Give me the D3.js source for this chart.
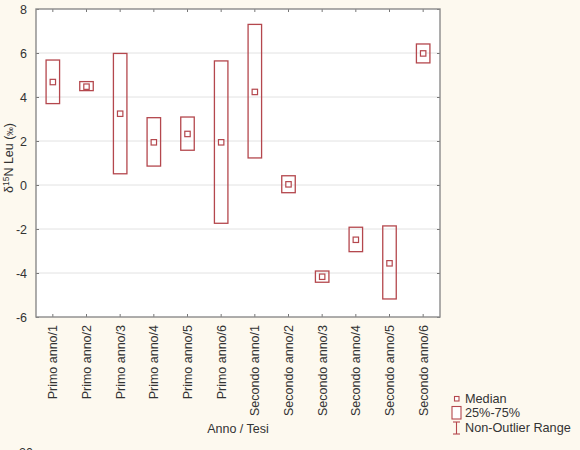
<!DOCTYPE html>
<html>
<head>
<meta charset="utf-8">
<script src="https://cdn.jsdelivr.net/npm/d3@7"></script>
<style>
  body { margin: 0; background: #fdf9ef; }
  svg { display: block; font-family: Arial, "Liberation Sans", sans-serif; }
</style>
</head>
<body>
<svg id="chart" width="580" height="450"></svg>
<script>
// categories and box values
var categories = ["Primo anno/1", "Primo anno/2", "Primo anno/3", "Primo anno/4", "Primo anno/5", "Primo anno/6",
  "Secondo anno/1", "Secondo anno/2", "Secondo anno/3", "Secondo anno/4", "Secondo anno/5", "Secondo anno/6"]
var medians = [4.68, 4.47, 3.24, 1.94, 2.32, 1.94, 4.23, 0.03, -4.17, -2.49, -3.56, 5.98]
var q1 = [3.70, 4.29, 0.51, 0.86, 1.58, -1.74, 1.23, -0.35, -4.42, -3.03, -5.18, 5.55]
var q3 = [5.68, 4.70, 5.98, 3.06, 3.09, 5.64, 7.30, 0.42, -3.91, -1.92, -1.86, 6.41]
var yTicks = [-6, -4, -2, 0, 2, 4, 6, 8]

var color = "#b4474d"
var axisColor = "#8a8a8a"
var margin = { top: 9, right: 140, bottom: 133, left: 36 }
var width = 580, height = 450

var svg = d3.select("#chart")

var x = d3.scaleBand()
  .domain(categories)
  .range([margin.left, width - margin.right])
  .padding(0)

var y = d3.scaleLinear()
  .domain([-6, 8])
  .range([height - margin.bottom, margin.top])

var data = categories.map(function (c, i) {
  return { cat: c, med: medians[i], lo: q1[i], hi: q3[i] }
})

// plot background
svg.append("rect")
  .attr("x", margin.left).attr("y", margin.top)
  .attr("width", x.range()[1] - margin.left)
  .attr("height", y(-6) - margin.top)
  .attr("fill", "#fff")

// grid
svg.append("g")
  .selectAll("line")
  .data(yTicks.slice(1, -1))
  .join("line")
  .attr("x1", margin.left).attr("x2", x.range()[1])
  .attr("y1", d => y(d)).attr("y2", d => y(d))
  .attr("stroke", "#e2e2e2").attr("stroke-width", 1)

// axes
var yAxis = svg.append("g")
  .attr("transform", "translate(" + margin.left + ",0)")
  .call(d3.axisLeft(y).tickValues(yTicks).tickSize(-3).tickPadding(9).tickFormat(d3.format("d")))
yAxis.select(".domain").remove()
yAxis.selectAll("text").attr("font-size", 12.5).attr("fill", "#333")
  .text(d => d < 0 ? "-" + Math.abs(d) : d)

var yAxisR = svg.append("g")
  .attr("transform", "translate(" + x.range()[1] + ",0)")
  .call(d3.axisRight(y).tickValues(yTicks).tickSize(-3).tickFormat(""))
yAxisR.select(".domain").remove()

var xAxis = svg.append("g")
  .attr("transform", "translate(0," + y(-6) + ")")
  .call(d3.axisBottom(x).tickSize(-3).tickPadding(8))
xAxis.select(".domain").remove()
xAxis.selectAll("text")
  .attr("font-size", 12.5).attr("fill", "#333")
  .attr("transform", "rotate(-90)")
  .attr("text-anchor", "end")
  .attr("x", -8).attr("y", 0).attr("dy", "0.35em")

var xAxisT = svg.append("g")
  .attr("transform", "translate(0," + margin.top + ")")
  .call(d3.axisTop(x).tickSize(-3).tickFormat(""))
xAxisT.select(".domain").remove()

svg.selectAll(".tick line").attr("stroke", "#777")

// frame
svg.append("rect")
  .attr("x", margin.left).attr("y", margin.top)
  .attr("width", x.range()[1] - margin.left)
  .attr("height", y(-6) - margin.top)
  .attr("fill", "none").attr("stroke", axisColor).attr("stroke-width", 1.4)

// boxes
var bw = 13.5
var boxes = svg.append("g")
boxes.selectAll("rect.box")
  .data(data)
  .join("rect")
  .attr("class", "box")
  .attr("x", d => x(d.cat) + x.bandwidth() / 2 - bw / 2)
  .attr("y", d => y(d.hi))
  .attr("width", bw)
  .attr("height", d => y(d.lo) - y(d.hi))
  .attr("fill", "none").attr("stroke", color).attr("stroke-width", 1.3)

boxes.selectAll("rect.med")
  .data(data)
  .join("rect")
  .attr("class", "med")
  .attr("x", d => x(d.cat) + x.bandwidth() / 2 - 2.7)
  .attr("y", d => y(d.med) - 2.7)
  .attr("width", 5.4).attr("height", 5.4)
  .attr("fill", "#fff").attr("stroke", color).attr("stroke-width", 1.2)

// axis titles
svg.append("text")
  .attr("transform", "translate(13,158) rotate(-90)")
  .attr("text-anchor", "middle")
  .attr("font-size", 12.5).attr("fill", "#333")
  .html('δ<tspan font-size="8.5" dy="-4">15</tspan><tspan dy="4">N Leu (</tspan><tspan font-size="8.5">‰</tspan><tspan>)</tspan>')

svg.append("text")
  .attr("x", 238).attr("y", 433)
  .attr("text-anchor", "middle")
  .attr("font-size", 12.5).attr("fill", "#333")
  .text("Anno / Tesi")

svg.append("text")
  .attr("x", 19).attr("y", 457)
  .attr("font-size", 12.5).attr("fill", "#333")
  .text("20")

// legend
var lg = svg.append("g").attr("fill", "#333").attr("font-size", 12.7)
lg.append("rect").attr("x", 454.5).attr("y", 396.5).attr("width", 4.5).attr("height", 4.5)
  .attr("fill", "#fff").attr("stroke", color).attr("stroke-width", 1.1)
lg.append("text").attr("x", 465).attr("y", 403).text("Median")
lg.append("rect").attr("x", 452).attr("y", 406.5).attr("width", 9).attr("height", 12.5)
  .attr("fill", "#fff").attr("stroke", color).attr("stroke-width", 1.1)
lg.append("text").attr("x", 465).attr("y", 417).text("25%-75%")
var wh = lg.append("g").attr("stroke", color).attr("stroke-width", 1.1)
wh.append("line").attr("x1", 456.5).attr("x2", 456.5).attr("y1", 422).attr("y2", 434)
wh.append("line").attr("x1", 453).attr("x2", 460).attr("y1", 422).attr("y2", 422)
wh.append("line").attr("x1", 453).attr("x2", 460).attr("y1", 434).attr("y2", 434)
lg.append("text").attr("x", 465).attr("y", 432).text("Non-Outlier Range")
</script>
</body>
</html>
